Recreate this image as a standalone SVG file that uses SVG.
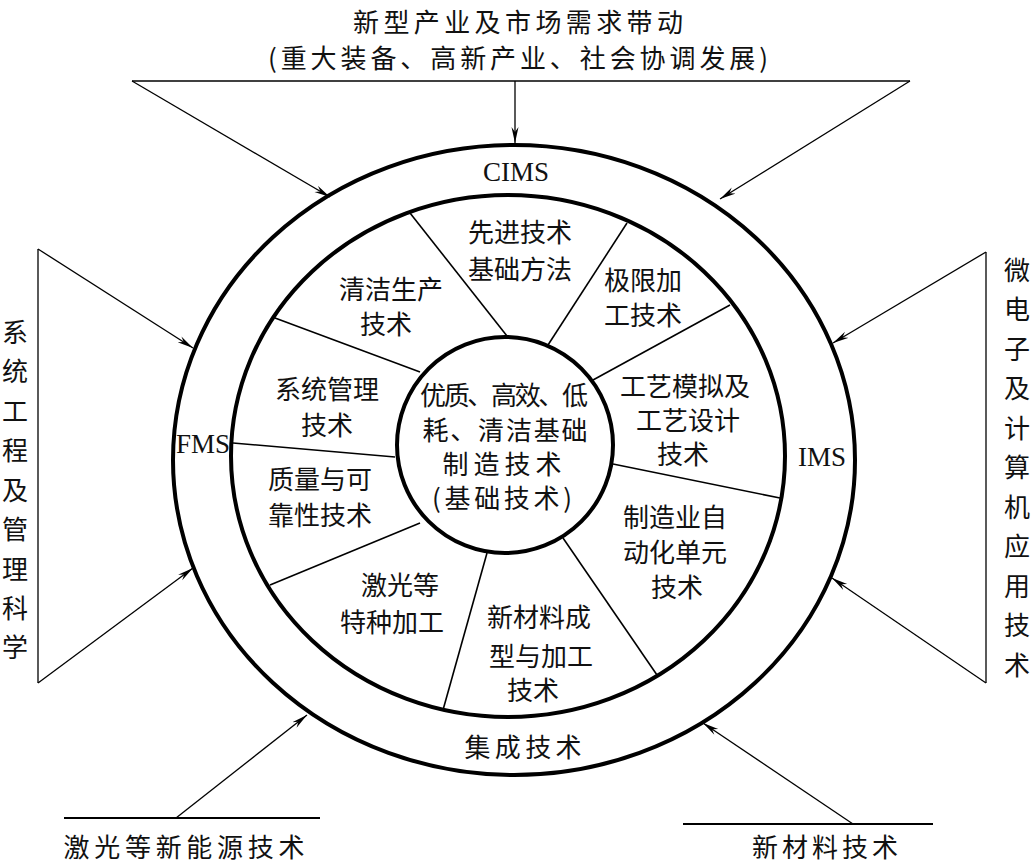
<svg xmlns="http://www.w3.org/2000/svg" width="1032" height="864" viewBox="0 0 1032 864">
<style>
.t{font-family:"Noto Sans CJK SC","Liberation Serif",sans-serif;font-size:26px;fill:#111;text-anchor:middle;dominant-baseline:central}
.l{font-family:"Liberation Serif",serif;font-size:27px;fill:#111;text-anchor:middle;dominant-baseline:central}
.ring{fill:none;stroke:#000;stroke-width:4}
.spoke{stroke:#000;stroke-width:1.6;fill:none}
.c{stroke:#000;stroke-width:1.3;fill:none}
.ca{stroke:#000;stroke-width:1.3;fill:none;marker-end:url(#ah)}
.base{stroke:#000;stroke-width:2.2}
</style>
<defs>
<marker id="ah" markerUnits="userSpaceOnUse" markerWidth="18" markerHeight="10" refX="16" refY="4" orient="auto">
<path d="M0,0.5 L16,4 L0,7.5 L5,4 z" fill="#000"/>
</marker>
</defs>
<rect width="1032" height="864" fill="#fff"/>

<g id="connectors">
<path class="c" d="M132,81 H910"/>
<path class="ca" d="M132,81 L330,197"/>
<path class="ca" d="M515,81 L515,143"/>
<path class="ca" d="M910,81 L720,199"/>
<path class="c" d="M38,249 V683"/>
<path class="ca" d="M38,249 L193,348"/>
<path class="ca" d="M38,683 L193,568"/>
<path class="c" d="M986,252 V683"/>
<path class="ca" d="M986,252 L833,343"/>
<path class="ca" d="M986,683 L832,578"/>
<path class="base" d="M64,818 H320"/>
<path class="ca" d="M176,818 L307,715"/>
<path class="base" d="M683,824 H933"/>
<path class="ca" d="M853,824 L703,723"/>
</g>

<g id="spokes">
<path class="spoke" d="M420,372 L275,318"/>
<path class="spoke" d="M507,336 L410,213"/>
<path class="spoke" d="M548,345 L627,223"/>
<path class="spoke" d="M593,380 L730,305"/>
<path class="spoke" d="M613,464 L780,498"/>
<path class="spoke" d="M563,538 L657,675"/>
<path class="spoke" d="M487,553 L443,710"/>
<path class="spoke" d="M420,523 L270,585"/>
<path class="spoke" d="M395,457 L233,443"/>
</g>

<g id="outer-ring">
<ellipse class="ring" cx="514" cy="460" rx="341" ry="315"/>
<text class="l" x="516" y="172">CIMS</text>
<text class="l" x="203" y="444">FMS</text>
<text class="l" x="822" y="457">IMS</text>
<text class="t" x="523" y="745" textLength="117">集成技术</text>
</g>

<g id="inner-ring">
<ellipse class="ring" cx="508" cy="456" rx="277" ry="261"/>
</g>

<g id="core">
<circle cx="505" cy="445" r="108" fill="#fff" stroke="#000" stroke-width="4"/>
<text class="t" x="504" y="393" textLength="168">优质、高效、低</text>
<text class="t" x="505" y="428" textLength="165">耗、清洁基础</text>
<text class="t" x="502" y="462" textLength="119">制造技术</text>
<text class="t" x="502" y="496" textLength="140">(基础技术)</text>
</g>

<g id="s-xianjin"><text class="t" x="520" y="230">先进技术</text><text class="t" x="520" y="267">基础方法</text></g>
<g id="s-jixian"><text class="t" x="643" y="278">极限加</text><text class="t" x="643" y="313">工技术</text></g>
<g id="s-gongyi"><text class="t" x="685" y="384">工艺模拟及</text><text class="t" x="688" y="418">工艺设计</text><text class="t" x="683" y="452">技术</text></g>
<g id="s-zhizao"><text class="t" x="675" y="515">制造业自</text><text class="t" x="675" y="550">动化单元</text><text class="t" x="677" y="585">技术</text></g>
<g id="s-xincailiao"><text class="t" x="539" y="615">新材料成</text><text class="t" x="541" y="654">型与加工</text><text class="t" x="533" y="688">技术</text></g>
<g id="s-jiguang"><text class="t" x="400" y="583">激光等</text><text class="t" x="392" y="620">特种加工</text></g>
<g id="s-zhiliang"><text class="t" x="320" y="477">质量与可</text><text class="t" x="320" y="513">靠性技术</text></g>
<g id="s-xitong"><text class="t" x="327" y="387">系统管理</text><text class="t" x="327" y="423">技术</text></g>
<g id="s-qingjie"><text class="t" x="391" y="287">清洁生产</text><text class="t" x="386" y="322">技术</text></g>

<g id="top-driver">
<text class="t" x="518" y="20" font-size="28" textLength="330">新型产业及市场需求带动</text>
<text class="t" x="518" y="56" font-size="28" textLength="500">(重大装备、高新产业、社会协调发展)</text>
</g>

<g id="left-driver">
<text class="t" x="15" y="330">系</text><text class="t" x="15" y="369">统</text><text class="t" x="15" y="409">工</text><text class="t" x="15" y="448">程</text><text class="t" x="15" y="488">及</text><text class="t" x="15" y="527">管</text><text class="t" x="15" y="567">理</text><text class="t" x="15" y="606">科</text><text class="t" x="15" y="645">学</text>
</g>

<g id="right-driver">
<text class="t" x="1017" y="268">微</text><text class="t" x="1017" y="307">电</text><text class="t" x="1017" y="347">子</text><text class="t" x="1017" y="386">及</text><text class="t" x="1017" y="426">计</text><text class="t" x="1017" y="465">算</text><text class="t" x="1017" y="505">机</text><text class="t" x="1017" y="544">应</text><text class="t" x="1017" y="584">用</text><text class="t" x="1017" y="623">技</text><text class="t" x="1017" y="663">术</text>
</g>

<g id="bottom-left-driver"><text class="t" x="184" y="845" textLength="241">激光等新能源技术</text></g>
<g id="bottom-right-driver"><text class="t" x="825" y="845" textLength="146">新材料技术</text></g>
</svg>
